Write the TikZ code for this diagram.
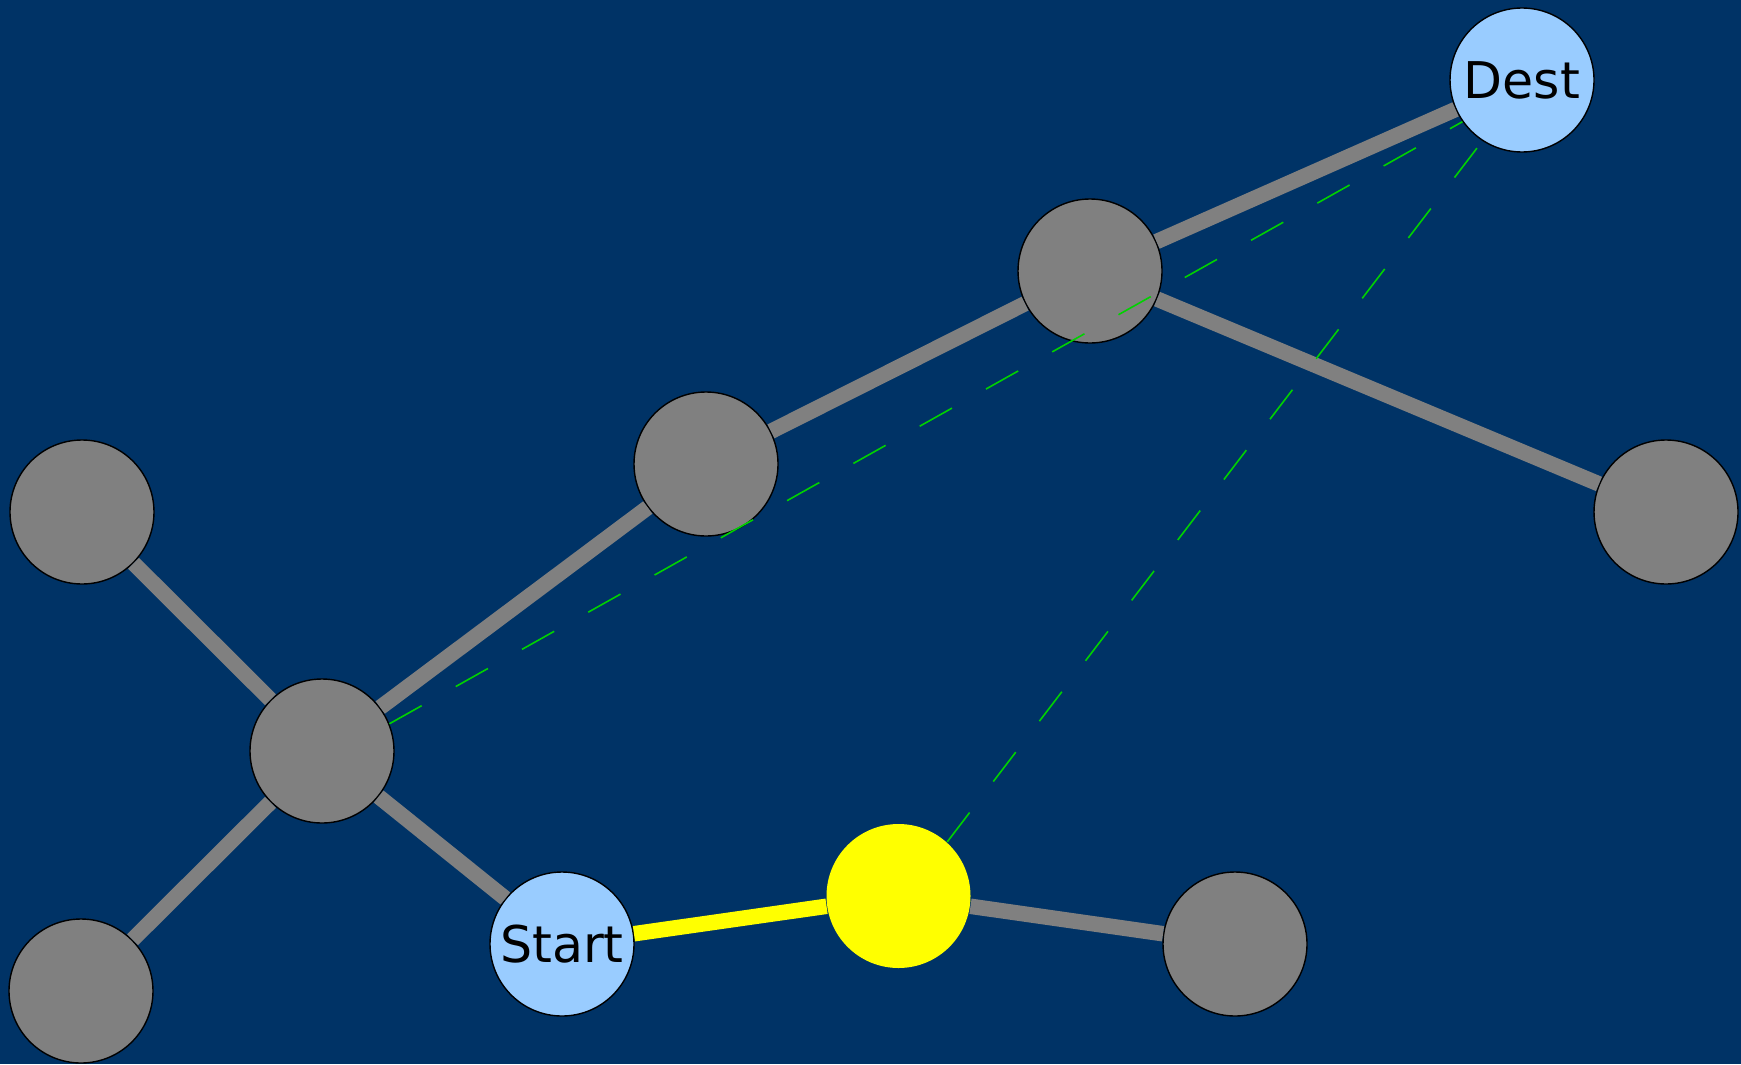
\documentclass[tikz,border=0pt]{standalone}
\usepackage{fontspec}
\setmainfont{DejaVu Sans}
\definecolor{bgblue}{RGB}{0,51,102}
\definecolor{endblue}{RGB}{153,204,255}
\definecolor{seenyellow}{RGB}{255,255,0}
\definecolor{heurgreen}{RGB}{0,210,0}

\begin{document}
\begin{tikzpicture}[
		vertex/.style={draw,circle,fill=gray,minimum size=1.44cm,inner sep=0pt,line width=0.4pt},
		endpt/.style={vertex,fill=endblue,font=\fontsize{14.4}{17}\selectfont},
		seen/.style={vertex,draw=none,fill=seenyellow},
		link/.style={line width=0.155cm,draw=gray},
		heur/.style={line width=0.45pt,draw=heurgreen,dash pattern=on 0.37cm off 0.39cm}]
		\fill[bgblue] (0,0) rectangle (17.41,10.64);
		\useasboundingbox (0,0) rectangle (17.41,10.64);
		\node[endpt](d) at (15.22,9.84) {Dest};
		\node[vertex](a) at (10.90,7.93) {};
		\node[vertex](b) at (7.06,6.00) {};
		\node[vertex](c) at (0.82,5.52) {};
		\node[vertex](e) at (16.66,5.52) {};
		\node[vertex](h) at (3.22,3.13) {};
		\node[vertex](f) at (0.81,0.73) {};
		\node[endpt](s) at (5.62,1.20) {Start};
		\node[seen](v) at (8.985,1.68) {};
		\node[vertex](g) at (12.35,1.20) {};
		\draw[link] (d)--(a) (a)--(b) (b)--(h) (h)--(c) (h)--(f) (h)--(s) (a)--(e) (v)--(g);
		\draw[link,draw=seenyellow] (s)--(v);
		\draw[heur] (h.22)--(d.215) (v.48)--(d.237);
	\end{tikzpicture}
\end{document}
